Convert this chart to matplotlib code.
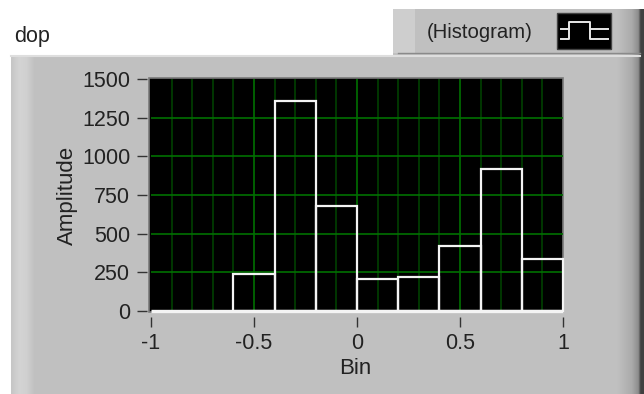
# -*- coding: utf-8 -*-
import numpy as np
import matplotlib
matplotlib.use('Agg')
import matplotlib.pyplot as plt
from matplotlib.colors import LinearSegmentedColormap
from matplotlib.patches import Rectangle

# ==================== data ====================
bin_edges = [-0.6, -0.4, -0.2, 0.0, 0.2, 0.4, 0.6, 0.8]
amplitudes = [240, 1360, 680, 210, 220, 420, 920, 335]
x_ticks = [-1, -0.5, 0, 0.5, 1]
x_tick_labels = ['-1', '-0.5', '0', '0.5', '1']
x_minor = [-0.9, -0.8, -0.7, -0.6, -0.4, -0.3, -0.2, -0.1,
           0.1, 0.2, 0.3, 0.4, 0.6, 0.7, 0.8, 0.9]
y_ticks = [0, 250, 500, 750, 1000, 1250, 1500]

W, H = 644, 394
PANEL = '#c0c0c0'
plt.rcParams['font.family'] = ['Liberation Sans', 'DejaVu Sans']
FS = 15.5
FS_TITLE = 16

fig = plt.figure(figsize=(W / 100, H / 100), dpi=100, facecolor='white')

# background in pixel coordinates, y pointing down
bg = fig.add_axes([0, 0, 1, 1])
bg.axis('off')

# header strip
bg.add_patch(Rectangle((393, 9), 251, 46, fc=PANEL, ec='none'))
bg.add_patch(Rectangle((393, 9), 22, 44, fc='#cecece', ec='none'))
bg.plot([398, 640], [53, 53], color='#8a8a8a', lw=1)
# main panel
bg.add_patch(Rectangle((11, 55), W - 11, H - 55, fc=PANEL, ec='none'))
left_band = LinearSegmentedColormap.from_list('band', ['#c6c6c6', '#d4d4d4', '#d0d0d0', PANEL])
bg.imshow(np.linspace(0, 1, 24).reshape(1, -1), extent=(11, 35, H, 55), cmap=left_band,
          aspect='auto', zorder=1)
bg.plot([11, 640], [56, 56], color='#dedede', lw=1.5, zorder=1.5)
# dark shading on the right edge
right_band = LinearSegmentedColormap.from_list(
    'edge', [(0, PANEL), (0.55, '#ababab'), (0.8, '#8e8e8e'), (0.9, '#404040'), (1, '#404040')])
bg.imshow(np.linspace(0, 1, 27).reshape(1, -1), extent=(617, 644, H, 9), cmap=right_band,
          aspect='auto', zorder=1)
bg.set_xlim(0, W)
bg.set_ylim(H, 0)

# plot frame
bg.add_patch(Rectangle((149.5, 77.5), 414, 234, fc='black', ec='#7a7a7a', lw=1.2, zorder=2))

# histogram button icon
bg.add_patch(Rectangle((557, 13), 54, 36, fc='black', ec='#444444', lw=1, zorder=2))
bg.plot([561, 569.5, 569.5, 590, 590, 608], [29, 29, 21.5, 21.5, 29, 29],
        color='#e8e8e8', lw=1.4, zorder=3)
bg.plot([561, 569.5, 569.5], [38.5, 38.5, 29], color='#e8e8e8', lw=1.4, zorder=3)
bg.plot([590, 590, 608], [29, 38.5, 38.5], color='#e8e8e8', lw=1.4, zorder=3)

bg.text(14, 36, 'dop', fontsize=FS, color='#222222', va='center', ha='left')
bg.text(480, 32, '(Histogram)', fontsize=14.6, color='#222222', va='center', ha='center', zorder=3)
bg.text(355, 368, 'Bin', fontsize=FS_TITLE, color='#222222', va='center', ha='center')
bg.text(67, 195, 'Amplitude', fontsize=FS_TITLE, color='#222222', va='center', ha='center', rotation=90)

# plot area
ax = fig.add_axes([151 / W, 1 - 311 / H, 412 / W, 232 / H], zorder=3, facecolor='none')
ax.set_xlim(-1, 1)
ax.set_ylim(0, 1500)

ax.set_xticks(x_ticks)
ax.set_xticklabels(x_tick_labels)
ax.set_yticks(y_ticks)

# grid, leaving out the lines that would sit on the frame
ax.vlines(x_minor, 0, 1500, color='#004000', lw=1.2, zorder=1)
ax.vlines(x_ticks[1:-1], 0, 1500, color='#007000', lw=1.2, zorder=1)
ax.hlines(y_ticks[1:-1], -1, 1, color='#007000', lw=1.2, zorder=1.5)

ax.bar(bin_edges, amplitudes, width=0.2, align='edge', fill=False,
       edgecolor='#f4f4f4', linewidth=1.6, zorder=4, clip_on=False)
ax.plot([-1, 1], [0, 0], color='#f4f4f4', lw=2.4, zorder=5, clip_on=False,
        solid_capstyle='butt')

for side in ['top', 'right', 'left', 'bottom']:
    ax.spines[side].set_visible(False)
ax.spines['left'].set_position(('outward', 3))
ax.spines['bottom'].set_position(('outward', 4.5))
ax.tick_params(axis='both', which='major', direction='out', length=7.5, width=1,
               color='#333333', labelcolor='#222222', labelsize=FS)
ax.tick_params(axis='x', pad=4)
ax.tick_params(axis='y', pad=4.5)

fig.savefig('out.png', dpi=100, facecolor='white')
plt.close(fig)
